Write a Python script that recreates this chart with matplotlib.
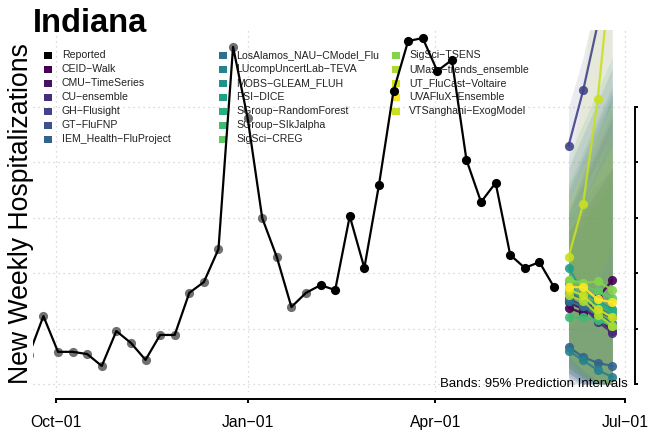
import matplotlib
matplotlib.use("Agg")
import matplotlib.dates as mdates
import matplotlib.pyplot as plt
import numpy as np
import pandas as pd

plt.rcParams["font.family"] = ["Liberation Sans", "DejaVu Sans"]

# reported weekly hospitalizations (week ending Saturdays)
REPORTED_DATES = pd.date_range("2021-09-18", periods=37, freq="7D")
REPORTED = [10.5, 24.5, 11.6, 11.6, 10.8, 6.5, 19.1, 14.8, 8.7, 17.7,
            17.7, 32.9, 36.8, 48.7, 121.7, 96.0, 59.9, 45.8, 27.8, 32.9,
            35.7, 33.9, 60.6, 41.9, 71.8, 105.8, 123.8, 124.9, 113.0, 117.0,
            80.9, 65.7, 72.6, 46.6, 41.9, 44.0, 35.0]
OLD_DATA_END = pd.Timestamp("2022-01-29")

FORECAST_DATES = pd.to_datetime(["2022-06-04", "2022-06-11", "2022-06-18", "2022-06-25"])
MODELS = ["CEID\u2212Walk", "CMU\u2212TimeSeries", "CU\u2212ensemble", "GH\u2212Flusight",
          "GT\u2212FluFNP", "IEM_Health\u2212FluProject", "LosAlamos_NAU\u2212CModel_Flu",
          "LUcompUncertLab\u2212TEVA", "MOBS\u2212GLEAM_FLUH", "PSI\u2212DICE",
          "SGroup\u2212RandomForest", "SGroup\u2212SIkJalpha", "SigSci\u2212CREG",
          "SigSci\u2212TSENS", "UMass\u2212trends_ensemble", "UT_FluCast\u2212Voltaire",
          "UVAFluX\u2212Ensemble", "VTSanghani\u2212ExogModel"]
COLORS = ["#440154", "#471063", "#472d7b", "#414487", "#3b528b", "#33638d",
          "#2c728e", "#26828e", "#21918c", "#1fa088", "#28ae80", "#3fbc73",
          "#5ec962", "#84d44b", "#addc30", "#d0e11c", "#fde725", "#c8e020"]
MEDIAN = [[27.5, 25.5, 31, 37.5], [29.5, 27, 24, 19], [31, 28, 22.5, 18.5],
          [86, 106, 130, 160], [33, 30, 26, 24], [13.4, 9.7, 7.6, 6.5],
          [30, 28, 25, 22], [12, 8.5, 5, 2.5], [34, 31, 27.5, 25],
          [42, 33, 30, 27], [36, 31, 29, 26], [24, 24, 23, 21],
          [37, 35.5, 33.5, 31], [37.5, 36.5, 37, 34], [32, 30, 25, 21],
          [34, 32, 27, 24], [35, 35, 30.5, 29.5], [45.8, 65, 103, 155]]
LOWER95 = [[2, 0, 0, 0], [6, 2, 0, 0], [4, 0, 0, 0], [60, 70, 80, 90],
           [3, 0, 0, 0], [0, 0, 0, 0], [6, 3, 0, 0], [0, 0, 0, 0],
           [4, 1, 0, 0], [8, 3, 0, 0], [6, 2, 0, 0], [4, 1, 0, 0],
           [5, 2, 0, 0], [8, 4, 1, 0], [8, 3, 0, 0], [10, 5, 1, 0],
           [6, 3, 0, 0], [20, 25, 35, 50]]
UPPER95 = [[60, 72, 84, 96], [55, 62, 70, 78], [70, 82, 94, 106], [100, 118, 140, 165],
           [78, 90, 102, 114], [55, 66, 78, 90], [62, 74, 86, 98], [62, 76, 90, 104],
           [72, 84, 96, 108], [82, 94, 106, 118], [60, 66, 72, 78], [50, 58, 66, 74],
           [68, 80, 92, 104], [64, 72, 82, 92], [52, 60, 68, 76], [56, 66, 76, 86],
           [66, 78, 90, 102], [72, 105, 155, 205]]
# order in which the translucent bands are layered
BAND_ORDER = [3, 8, 0, 14, 11, 5, 2, 9, 6, 12, 1, 17, 10, 7, 16, 13, 4, 15]

MONTH_TICKS = pd.to_datetime(["2021-10-01", "2022-01-01", "2022-04-01", "2022-07-01"])
Y_TICKS = [0, 20, 40, 60, 80, 100]

W, H = 648, 433


def fx(px):
    return px / W


def fy(py):
    return 1 - py / H


fig = plt.figure(figsize=(W / 100, H / 100), dpi=100)
ax = fig.add_axes([fx(33), fy(392), fx(629) - fx(33), fy(30) - fy(392)])

ax.set_xlim(pd.Timestamp("2021-09-20"), pd.Timestamp("2022-07-03"))
ax.set_ylim(-2.9, 127.8)

for d in MONTH_TICKS:
    ax.axvline(d, color="#cfcfcf", lw=0.9, ls=(0, (1, 3)), zorder=0)
for v in Y_TICKS:
    ax.axhline(v, color="#cfcfcf", lw=0.9, ls=(0, (1, 3)), zorder=0)

# prediction bands
for k in BAND_ORDER:
    ax.fill_between(FORECAST_DATES, LOWER95[k], UPPER95[k], color=COLORS[k],
                    alpha=0.11, lw=0, zorder=2)

# reported
ax.plot(REPORTED_DATES, REPORTED, color="black", lw=1.6, zorder=4)
old = REPORTED_DATES <= OLD_DATA_END
rep = np.array(REPORTED)
ax.plot(REPORTED_DATES[old], rep[old], "o", color="#707070", ms=6.6, mew=0, zorder=3)
ax.plot(REPORTED_DATES[~old], rep[~old], "o", color="black", ms=6.6, mew=0, zorder=4)

# forecasts
for c, med in zip(COLORS, MEDIAN):
    ax.plot(FORECAST_DATES, med, "-o", color=c, lw=1.6, ms=6.6, mew=0,
            alpha=0.9, zorder=5)

# legend drawn under the data
entries = [("Reported", "black")] + list(zip(MODELS, COLORS))
sq_x = [48, 222.5, 396]
txt_x = [62, 236, 409]
for i, (name, c) in enumerate(entries):
    col, row = divmod(i, 7)
    yy = 55 + row * 14
    ax.add_patch(plt.Rectangle((fx(sq_x[col] - 4), fy(yy + 3.5)), 8 / W, 7 / H,
                               transform=fig.transFigure, color=c, lw=0, zorder=1))
    ax.text(fx(txt_x[col]), fy(yy), name, transform=fig.transFigure,
            fontsize=7.6, color="#222222", va="center", ha="left", zorder=1)

ax.text(fx(628), fy(384), "Bands: 95% Prediction Intervals", transform=fig.transFigure,
        fontsize=9.5, ha="right", va="center", zorder=6)

# axes
for s in ("left", "top"):
    ax.spines[s].set_visible(False)
ax.spines["bottom"].set_position(("outward", 5))
ax.spines["bottom"].set_bounds(mdates.date2num(MONTH_TICKS[0]), mdates.date2num(MONTH_TICKS[-1]))
ax.spines["bottom"].set_linewidth(1.4)
ax.spines["right"].set_position(("outward", 4.3))
ax.spines["right"].set_bounds(0, 100)
ax.spines["right"].set_linewidth(1.4)

ax.set_xticks(MONTH_TICKS)
ax.xaxis.set_major_formatter(mdates.DateFormatter("%b\u221201"))
ax.tick_params(axis="x", length=2.6, width=1.4, pad=9, labelsize=11.3)
ax.yaxis.tick_right()
ax.set_yticks(Y_TICKS)
ax.tick_params(axis="y", length=2.4, width=1.4, pad=8.3, labelsize=11.3, labelrotation=90)
for lab in ax.get_yticklabels():
    lab.set_va("center")

fig.text(fx(33), fy(32), "Indiana", fontsize=23.5, fontweight="bold", va="baseline", ha="left")
fig.text(fx(21), fy(214), "New Weekly Hospitalizations", fontsize=19.2, rotation=90,
         ha="center", va="center")

fig.savefig("out.png", dpi=100)
